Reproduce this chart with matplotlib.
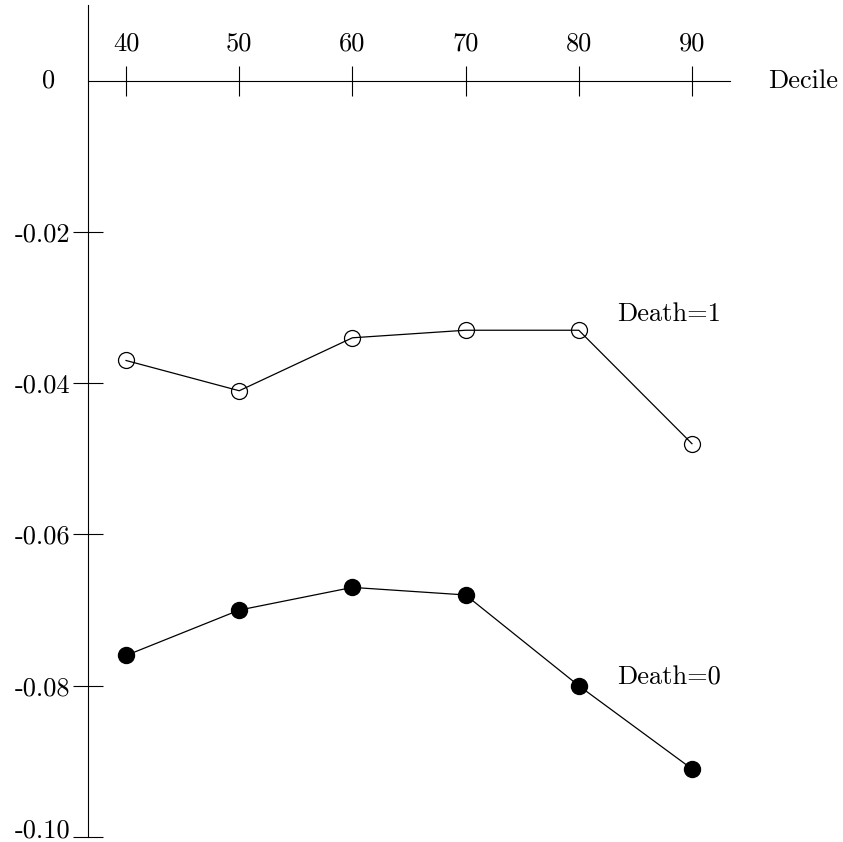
import matplotlib
matplotlib.use("Agg")
import matplotlib.pyplot as plt

deciles = [40, 50, 60, 70, 80, 90]
death1 = [-0.037, -0.041, -0.034, -0.033, -0.033, -0.048]
death0 = [-0.076, -0.070, -0.067, -0.068, -0.080, -0.091]
xtick_labels = ["40", "50", "60", "70", "80", "90"]
ytick_vals = [-0.10, -0.08, -0.06, -0.04, -0.02]
ytick_labels = ["-0.10", "-0.08", "-0.06", "-0.04", "-0.02"]

plt.rcParams["font.family"] = ["cmr10", "DejaVu Serif"]
FS = 19
W, H = 843, 842
fig = plt.figure(figsize=(W / 100, H / 100), dpi=100)
ax = fig.add_axes([88 / W, 5 / H, 642 / W, 832 / H])
ax.set_xlim(36.64, 93.36)
ax.set_ylim(-0.10, 0.01)

for s in ["top", "right"]:
    ax.spines[s].set_visible(False)
ax.spines["bottom"].set_position(("data", 0))
for s in ["left", "bottom"]:
    ax.spines[s].set_linewidth(0.8)
    ax.spines[s].set_color("black")

ax.set_xticks(deciles)
ax.set_xticklabels([])
ax.set_yticks(ytick_vals)
ax.set_yticklabels(ytick_labels, fontsize=FS)
ax.get_yticklabels()[0].set_va("baseline")
ax.tick_params(axis="x", direction="inout", length=22, width=0.8)
ax.tick_params(axis="y", direction="inout", length=22, width=0.8, pad=2)
ax.patch.set_alpha(0)

for x, lab in zip(deciles, xtick_labels):
    ax.annotate(lab, xy=(x, 0), xytext=(0, 27), textcoords="offset points",
                ha="center", va="center", fontsize=FS)

ax.annotate("0", xy=(0, 0), xycoords=("axes fraction", "data"),
            xytext=(-24, 0), textcoords="offset points",
            ha="right", va="center", fontsize=FS)
ax.annotate("Decile", xy=(1, 0), xycoords=("axes fraction", "data"),
            xytext=(27.4, 0), textcoords="offset points",
            ha="left", va="center", fontsize=FS, annotation_clip=False)

ax.plot(deciles, death1, color="black", lw=0.9, marker="o", ms=11.5,
        mfc="none", mec="black", mew=0.9, clip_on=False)
ax.plot(deciles, death0, color="black", lw=0.9, marker="o", ms=11.5,
        mfc="black", mec="black", clip_on=False)

ax.text(83.37, -0.0309, "Death=1", ha="left", va="center", fontsize=FS)
ax.text(83.37, -0.0789, "Death=0", ha="left", va="center", fontsize=FS)

fig.savefig("out.png", dpi=100)
